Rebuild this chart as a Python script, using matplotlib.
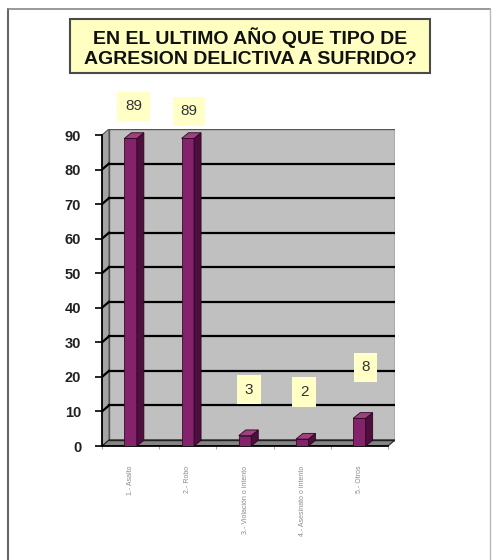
import matplotlib
matplotlib.use('Agg')
import matplotlib.pyplot as plt
import numpy as np
from matplotlib.patches import Polygon, Rectangle
from matplotlib.lines import Line2D

# ---- data ----
categories = ['1.- Asalto', '2.- Robo', '3.- Violación o intento',
              '4.- Asesinato o intento', '5.- Otros']
values = [89, 89, 3, 2, 8]
yticks = [0, 10, 20, 30, 40, 50, 60, 70, 80, 90]
title_lines = ['EN EL ULTIMO AÑO QUE TIPO DE', 'AGRESION DELICTIVA A SUFRIDO?']

# ---- style / layout ----
W, H = 498, 560
FONT = 'Liberation Sans'
plt.rcParams['font.family'] = [FONT, 'DejaVu Sans']
front_c = '#84226C'
side_c = '#4E0E3E'
top_c = '#A0407F'
wall_c = '#C0C0C0'
side_wall_c = '#A4A4A4'
floor_c = '#858585'
label_box = '#FFFFC6'
# label offsets in pixels (dx, dy up) relative to front bar top centre
label_offsets_px = [(3, 32), (1, 27), (4, 46), (2, 47), (6, 51)]

fig = plt.figure(figsize=(W / 100, H / 100), dpi=100)
fig.patch.set_facecolor('white')

# plot area in pixels
px_l, px_r, px_b, px_t = 102, 395, 446, 129
ax = fig.add_axes([px_l / W, 1 - px_b / H, (px_r - px_l) / W, (px_b - px_t) / H])
ax.patch.set_alpha(0)

n = len(categories)
ppu_x = 57.2          # pixels per category
DX = 7 / ppu_x        # depth offset in x data units
ymax = yticks[-1]
ppu_y = (px_b - px_t) / (ymax + 6 / 3.455)
DY = 6 / ppu_y
ax.set_xlim(0, n + DX)
ax.set_ylim(0, ymax + DY)

# walls
ax.add_patch(Rectangle((DX, DY), n, ymax, fc=wall_c, ec='#555555', lw=1.0, zorder=1))
ax.add_patch(Polygon([(0, 0), (DX, DY), (DX, ymax + DY), (0, ymax)],
                     closed=True, fc=side_wall_c, ec='#555555', lw=0.8, zorder=1))
ax.add_patch(Polygon([(0, 0), (n, 0), (n + DX, DY), (DX, DY)],
                     closed=True, fc=floor_c, ec='#222222', lw=0.8, zorder=1))

# gridlines
for v in yticks[1:-1]:
    ax.add_line(Line2D([DX, n + DX], [v + DY, v + DY], color='black', lw=1.6, zorder=2))
    ax.add_line(Line2D([0, DX], [v, v + DY], color='black', lw=1.6, zorder=2))
ax.add_line(Line2D([DX, n + DX], [DY, DY], color='#222222', lw=1.0, zorder=2))

# bars
centers = np.arange(n) + 0.5
BW = 12.5 / ppu_x
bdx, bdy = DX * 1.0, DY * 0.95
ax.bar(centers, values, width=BW, color=front_c, edgecolor='#3a0a2c', lw=0.6, zorder=4)
for c, v in zip(centers, values):
    r = c + BW / 2
    l = c - BW / 2
    ax.add_patch(Polygon([(r, 0), (r + bdx, bdy), (r + bdx, v + bdy), (r, v)],
                         closed=True, fc=side_c, ec='#2a0520', lw=0.6, zorder=4))
    ax.add_patch(Polygon([(l, v), (r, v), (r + bdx, v + bdy), (l + bdx, v + bdy)],
                         closed=True, fc=top_c, ec='#2a0520', lw=0.6, zorder=4))

# value labels
for c, v, (odx, ody) in zip(centers, values, label_offsets_px):
    ax.annotate(str(v), xy=(c, v), xytext=(odx * 0.72, ody * 0.72),
                textcoords='offset points', ha='center', va='center',
                fontsize=11, color='#333333', annotation_clip=False, zorder=6,
                bbox=dict(boxstyle='square,pad=0.5', fc=label_box, ec='none'))

# axes styling
for s in ['top', 'right']:
    ax.spines[s].set_visible(False)
ax.spines['left'].set_bounds(0, ymax)
ax.spines['left'].set_linewidth(1.3)
ax.spines['bottom'].set_bounds(0, n)
ax.spines['bottom'].set_linewidth(1.3)
ax.spines['left'].set_zorder(3)
ax.spines['bottom'].set_zorder(3)

ax.set_yticks(yticks)
ax.set_yticklabels([str(t) for t in yticks], fontsize=10.5, fontweight='bold', color='#222222')
ax.tick_params(axis='y', length=5, width=1.2, pad=10, colors='black', labelcolor='#222222')

ax.set_xticks(np.arange(n + 1))
ax.set_xticklabels([])
ax.tick_params(axis='x', which='major', length=2, width=0.8, color='#aaaaaa')
ax.set_xticks(centers, minor=True)
ax.set_xticklabels(categories, minor=True, rotation=90, fontsize=5, color='#8a8a8a',
                   va='top', ha='center')
ax.tick_params(axis='x', which='minor', length=0, pad=14)

# title box
fig.add_artist(Rectangle((70 / W, 1 - 73 / H), 360 / W, 54 / H, transform=fig.transFigure,
                         fc='#FFFFC2', ec='#4a4a4a', lw=1.5))
fig.text(250 / W, 1 - 38 / H, title_lines[0], ha='center', va='center', fontsize=14,
         fontweight='bold', color='#111111')
fig.text(250 / W, 1 - 60 / H, title_lines[1], ha='center', va='center', fontsize=14,
         fontweight='bold', color='#111111')

# page border
fig.add_artist(Line2D([8 / W, 8 / W], [0, 1 - 9 / H], transform=fig.transFigure,
                      color='#666666', lw=1.5))
fig.add_artist(Line2D([8 / W, 490 / W], [1 - 9 / H, 1 - 9 / H], transform=fig.transFigure,
                      color='#888888', lw=1.2))
fig.add_artist(Line2D([490 / W, 490 / W], [0, 1 - 9 / H], transform=fig.transFigure,
                      color='#bbbbbb', lw=1.0))

fig.savefig('out.png', dpi=100)
